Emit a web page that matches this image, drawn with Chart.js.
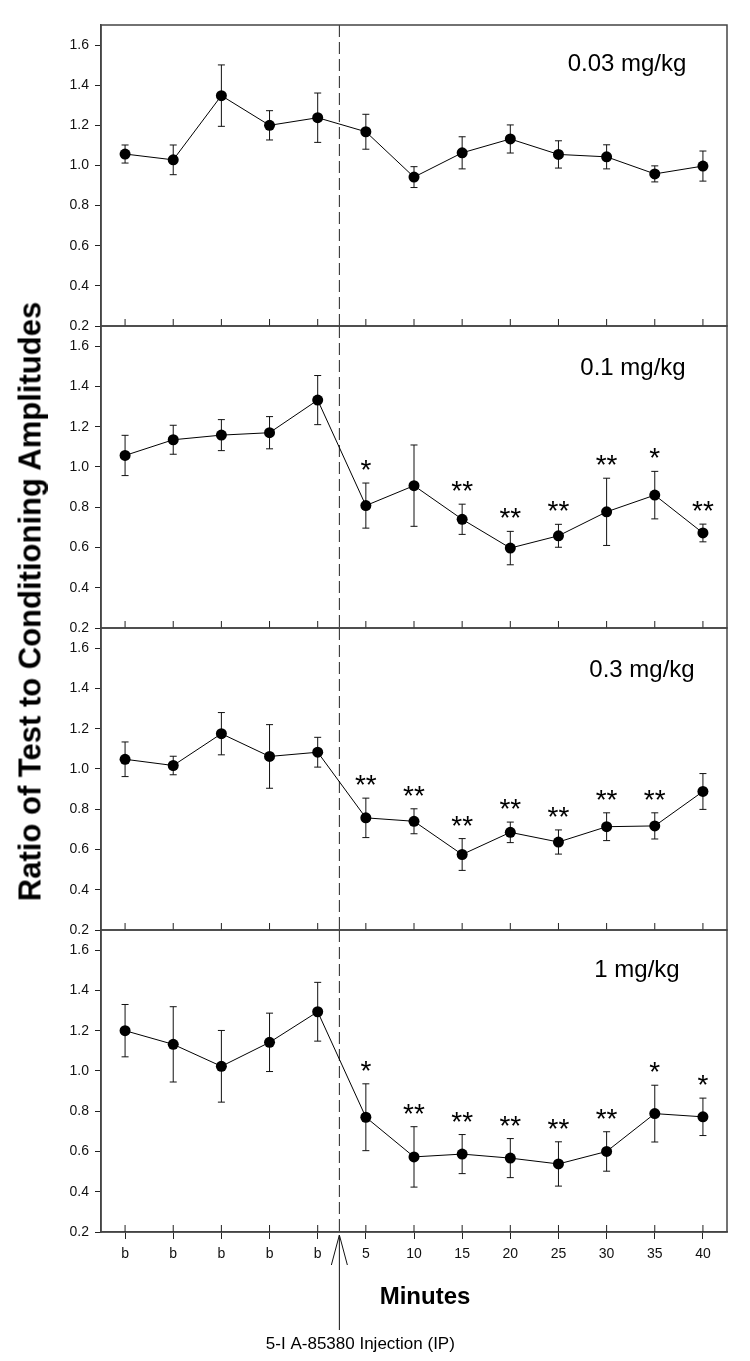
<!DOCTYPE html>
<html>
<head>
<meta charset="utf-8">
<script src="https://cdn.jsdelivr.net/npm/chart.js@4.4.1/dist/chart.umd.min.js"></script>
<style>
  body { margin: 0; background: #fff; }
  #wrap { position: relative; width: 750px; height: 1361px; overflow: hidden; font-family: "Liberation Sans", Arial, sans-serif; }
  canvas { position: absolute; left: 0; }
  #ytitle { position: absolute; left: -320px; top: 586px; width: 700px; height: 31px; line-height: 31px;
            text-align: center; font-weight: bold; font-size: 31px; transform: rotate(-90deg); color: #000; }
</style>
</head>
<body>
<div id="wrap">
  <canvas id="p1" width="750" height="336" style="top:0px"></canvas>
  <canvas id="p2" width="750" height="322" style="top:316px"></canvas>
  <canvas id="p3" width="750" height="322" style="top:618px"></canvas>
  <canvas id="p4" width="750" height="441" style="top:920px"></canvas>
  <div id="ytitle">Ratio of Test to Conditioning Amplitudes</div>
</div>
<script>
// x categories: 5 baseline readings then minutes after injection
const xLabels = ['b', 'b', 'b', 'b', 'b', '5', '10', '15', '20', '25', '30', '35', '40'];
const yTicks = [0.2, 0.4, 0.6, 0.8, 1.0, 1.2, 1.4, 1.6];
const doses = ['0.03 mg/kg', '0.1 mg/kg', '0.3 mg/kg', '1 mg/kg'];

const mean003 = [1.057, 1.028, 1.348, 1.200, 1.238, 1.168, 0.942, 1.063, 1.132, 1.055, 1.043, 0.958, 0.997];
const err003  = [0.045, 0.074, 0.153, 0.073, 0.123, 0.087, 0.052, 0.080, 0.070, 0.068, 0.060, 0.040, 0.075];
const stars003 = ['', '', '', '', '', '', '', '', '', '', '', '', ''];

const mean01 = [1.057, 1.135, 1.158, 1.170, 1.332, 0.808, 0.907, 0.740, 0.597, 0.658, 0.777, 0.860, 0.672];
const err01  = [0.100, 0.072, 0.077, 0.080, 0.122, 0.112, 0.202, 0.075, 0.083, 0.057, 0.167, 0.118, 0.044];
const stars01 = ['', '', '', '', '', '*', '', '**', '**', '**', '**', '*', '**'];

const mean03 = [1.048, 1.017, 1.175, 1.062, 1.083, 0.757, 0.740, 0.575, 0.685, 0.637, 0.713, 0.717, 0.888];
const err03  = [0.086, 0.046, 0.105, 0.158, 0.074, 0.098, 0.062, 0.079, 0.051, 0.060, 0.069, 0.065, 0.089];
const stars03 = ['', '', '', '', '', '**', '**', '**', '**', '**', '**', '**', ''];

const mean1 = [1.200, 1.132, 1.023, 1.142, 1.294, 0.770, 0.573, 0.587, 0.567, 0.538, 0.600, 0.788, 0.772];
const err1  = [0.130, 0.187, 0.178, 0.145, 0.146, 0.166, 0.150, 0.097, 0.097, 0.110, 0.098, 0.141, 0.093];
const stars1 = ['', '', '', '', '', '*', '**', '**', '**', '**', '**', '*', '*'];

const injectionAt = 4.45; // between last baseline and 5 min

const FONT = '"Liberation Sans", Arial, sans-serif';
Chart.defaults.font.family = FONT;

function makeExtras(means, errs, stars, dose, doseX, doseDy, isBottom) {
  return {
    id: 'panelExtras',
    beforeDatasetsDraw(chart) {
      const { ctx, chartArea: a, scales: { x, y } } = chart;
      ctx.save();
      // dashed injection line
      const xi = x.getPixelForValue(injectionAt);
      ctx.strokeStyle = '#222';
      ctx.lineWidth = 1;
      ctx.setLineDash([12, 5]);
      ctx.beginPath();
      ctx.moveTo(xi, a.top);
      ctx.lineTo(xi, a.bottom);
      ctx.stroke();
      ctx.setLineDash([]);
      // error bars
      ctx.strokeStyle = '#111';
      means.forEach((m, i) => {
        const px = x.getPixelForValue(i);
        const top = y.getPixelForValue(m + errs[i]);
        const bot = y.getPixelForValue(m - errs[i]);
        ctx.beginPath();
        ctx.moveTo(px, top); ctx.lineTo(px, bot);
        ctx.moveTo(px - 3.5, top); ctx.lineTo(px + 3.5, top);
        ctx.moveTo(px - 3.5, bot); ctx.lineTo(px + 3.5, bot);
        ctx.stroke();
      });
      ctx.restore();
    },
    afterDraw(chart) {
      const { ctx, chartArea: a, scales: { x, y } } = chart;
      ctx.save();
      // frame
      ctx.strokeStyle = '#444';
      ctx.lineWidth = 1.5;
      ctx.strokeRect(a.left, a.top, a.right - a.left, a.bottom - a.top);
      // inward tick marks
      ctx.strokeStyle = '#222';
      ctx.lineWidth = 1;
      xLabels.forEach((l, i) => {
        const px = x.getPixelForValue(i);
        ctx.beginPath();
        ctx.moveTo(px, a.bottom);
        ctx.lineTo(px, a.bottom - 7);
        ctx.stroke();
      });
      // dose label
      ctx.fillStyle = '#000';
      ctx.font = '24px ' + FONT;
      ctx.textAlign = 'center';
      ctx.textBaseline = 'middle';
      ctx.fillText(dose, doseX, a.top + doseDy);
      // significance stars
      ctx.font = '28px ' + FONT;
      ctx.textBaseline = 'alphabetic';
      stars.forEach((s, i) => {
        if (!s) return;
        const px = x.getPixelForValue(i);
        const top = y.getPixelForValue(means[i] + errs[i]);
        ctx.fillText(s, px, top - 4);
      });
      if (isBottom) {
        const xi = x.getPixelForValue(injectionAt);
        // arrow
        ctx.strokeStyle = '#111';
        ctx.lineWidth = 1;
        ctx.beginPath();
        ctx.moveTo(xi, a.bottom + 98);
        ctx.lineTo(xi, a.bottom + 3);
        ctx.moveTo(xi - 8, a.bottom + 33);
        ctx.lineTo(xi, a.bottom + 3);
        ctx.lineTo(xi + 8, a.bottom + 33);
        ctx.stroke();
        ctx.fillStyle = '#000';
        ctx.textBaseline = 'middle';
        ctx.font = 'bold 24px ' + FONT;
        ctx.fillText('Minutes', 425, a.bottom + 65);
        ctx.font = '17px ' + FONT;
        ctx.fillText('5-I A-85380 Injection (IP)', xi + 21, a.bottom + 112);
      }
      ctx.restore();
    }
  };
}

function makePanel(id, means, errs, stars, dose, doseX, doseDy, padTop, padBottom, isBottom) {
  new Chart(document.getElementById(id), {
    type: 'line',
    data: {
      labels: xLabels,
      datasets: [{
        data: means,
        borderColor: '#000',
        borderWidth: 1,
        pointRadius: 5.5,
        pointBackgroundColor: '#000',
        pointBorderColor: '#000',
        pointBorderWidth: 0,
        tension: 0,
        clip: false
      }]
    },
    options: {
      responsive: false,
      animation: false,
      layout: { padding: { top: padTop, bottom: padBottom, left: 0, right: 23 } },
      plugins: { legend: { display: false }, tooltip: { enabled: false } },
      scales: {
        x: {
          type: 'category',
          offset: true,
          display: isBottom,
          grid: { display: true, drawOnChartArea: false, drawTicks: true, tickLength: 7, color: '#222', offset: false },
          border: { display: true, color: '#444', width: 1.5 },
          ticks: { font: { size: 14 }, color: '#111', padding: 7, maxRotation: 0, autoSkip: false },
          afterFit: s => { s.height = isBottom ? 129 : 0; s.paddingLeft = 0; s.paddingRight = 0; }
        },
        y: {
          min: 0.2,
          max: 1.7,
          afterBuildTicks: s => { s.ticks = yTicks.map(v => ({ value: v })); },
          afterFit: s => { s.width = 101; s.paddingTop = 0; s.paddingBottom = 0; },
          grid: { drawOnChartArea: false, drawTicks: true, tickLength: 6, color: '#222' },
          border: { display: true, color: '#444', width: 1.5 },
          ticks: { font: { size: 14 }, color: '#111', padding: 6, callback: v => Number(v).toFixed(1) }
        }
      }
    },
    plugins: [makeExtras(means, errs, stars, dose, doseX, doseDy, isBottom)]
  });
}

makePanel('p1', mean003, err003, stars003, doses[0], 627, 39, 25, 10, false);
makePanel('p2', mean01, err01, stars01, doses[1], 633, 42, 10, 10, false);
makePanel('p3', mean03, err03, stars03, doses[2], 642, 42, 10, 10, false);
makePanel('p4', mean1, err1, stars1, doses[3], 637, 40, 10, 0, true);
</script>
</body>
</html>
